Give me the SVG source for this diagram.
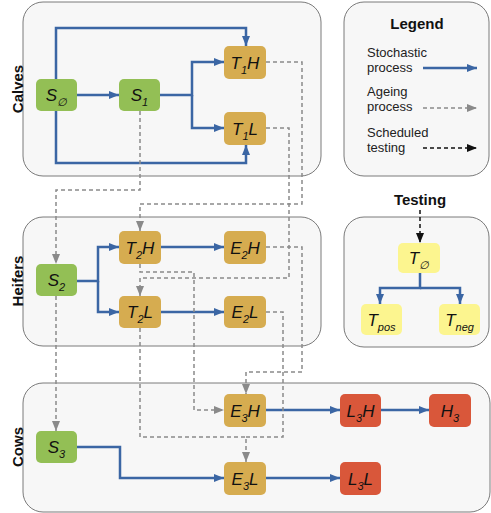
<svg xmlns="http://www.w3.org/2000/svg" width="491" height="513" viewBox="0 0 491 513">
<defs>
<style>
.box{fill:#f7f7f7;stroke:#7a7a7a;stroke-width:1}
.n{stroke:none}
.g{fill:#93bf55}
.o{fill:#d6ac50}
.r{fill:#d9573a}
.y{fill:#fcf58f}
.t{font-family:"Liberation Sans",Arial,sans-serif;font-style:italic;font-size:17px;fill:#111;text-anchor:middle}
.s{font-size:11px}
.lbl{font-family:"Liberation Sans",Arial,sans-serif;font-weight:bold;font-size:15px;fill:#111;text-anchor:middle}
.leg{font-family:"Liberation Sans",Arial,sans-serif;font-size:13px;fill:#222}
.st{fill:none;stroke:#3b66a4;stroke-width:2.5}
.ag{fill:none;stroke:#8a8a8a;stroke-width:1.5;stroke-dasharray:4,3}
.sc{fill:none;stroke:#111;stroke-width:1.5;stroke-dasharray:4,3}
</style>
<marker id="ab" markerUnits="userSpaceOnUse" markerWidth="10" markerHeight="8" refX="10" refY="4" orient="auto"><path d="M0,0 L10,4 L0,8 z" fill="#3b66a4"/></marker>
<marker id="ag" markerUnits="userSpaceOnUse" markerWidth="10" markerHeight="8" refX="10" refY="4" orient="auto"><path d="M0,0 L10,4 L0,8 z" fill="#8a8a8a"/></marker>
<marker id="ak" markerUnits="userSpaceOnUse" markerWidth="10" markerHeight="8" refX="10" refY="4" orient="auto"><path d="M0,0 L10,4 L0,8 z" fill="#111"/></marker>
</defs>

<g id="groups">
<rect class="box" x="23" y="2" width="298" height="174" rx="20"/>
<rect class="box" x="23" y="217" width="298" height="129" rx="20"/>
<rect class="box" x="23" y="383" width="467" height="129" rx="20"/>
<rect class="box" x="344" y="2" width="145" height="174" rx="20"/>
<rect class="box" x="344" y="217" width="145" height="130" rx="20"/>
<text class="lbl" transform="translate(23,89) rotate(-90)">Calves</text>
<text class="lbl" transform="translate(23,281) rotate(-90)">Heifers</text>
<text class="lbl" transform="translate(23,447) rotate(-90)">Cows</text>
<text class="lbl" x="417" y="29">Legend</text>
<text class="lbl" x="420" y="205">Testing</text>
</g>

<g id="legend">
<text class="leg" x="367" y="57">Stochastic</text>
<text class="leg" x="367" y="72">process</text>
<text class="leg" x="367" y="96">Ageing</text>
<text class="leg" x="367" y="111">process</text>
<text class="leg" x="367" y="137">Scheduled</text>
<text class="leg" x="367" y="152">testing</text>
<path class="st" d="M423,68 H477" marker-end="url(#ab)"/>
<path class="ag" d="M423,108 H477" marker-end="url(#ag)"/>
<path class="sc" d="M423,148 H477" marker-end="url(#ak)"/>
</g>

<g id="connectors">
<path class="st" d="M56,79 V28 H246 V46" marker-end="url(#ab)"/>
<path class="st" d="M56,111 V163 H246 V145" marker-end="url(#ab)"/>
<path class="st" d="M77,95 H119" marker-end="url(#ab)"/>
<path class="st" d="M160,95 H192 V62 H224" marker-end="url(#ab)"/>
<path class="st" d="M192,95 V128 H224" marker-end="url(#ab)"/>
<path class="st" d="M77,281 H98 V247 H119" marker-end="url(#ab)"/>
<path class="st" d="M98,281 V312 H119" marker-end="url(#ab)"/>
<path class="st" d="M161,247 H224" marker-end="url(#ab)"/>
<path class="st" d="M161,312 H224" marker-end="url(#ab)"/>
<path class="st" d="M77,447 H120 V478 H224" marker-end="url(#ab)"/>
<path class="st" d="M266,410 H340" marker-end="url(#ab)"/>
<path class="st" d="M381,410 H429" marker-end="url(#ab)"/>
<path class="st" d="M266,478 H340" marker-end="url(#ab)"/>
<path class="st" d="M420,273 V288 H380 V304" marker-end="url(#ab)"/>
<path class="st" d="M420,288 H460 V304" marker-end="url(#ab)"/>

<path class="ag" d="M140,111 V190 H56 V264" marker-end="url(#ag)"/>
<path class="ag" d="M266,62 H302 V204 H140 V231" marker-end="url(#ag)"/>
<path class="ag" d="M266,128 H289 V278 H140 V296" marker-end="url(#ag)"/>
<path class="ag" d="M140,264 V272 H194 V410 H224" marker-end="url(#ag)"/>
<path class="ag" d="M56,296 V431" marker-end="url(#ag)"/>
<path class="ag" d="M266,247 H302 V372 H246 V394" marker-end="url(#ag)"/>
<path class="ag" d="M140,328 V437 H246 V462" marker-end="url(#ag)"/>
<path class="ag" d="M266,312 H283 V437 H246"/>

<path class="sc" d="M420,210 V243" marker-end="url(#ak)"/>
</g>

<g id="S0"><rect class="n g" x="36" y="79" width="41" height="32" rx="5"/><text class="t" x="56.5" y="101">S<tspan class="s" dy="5">∅</tspan></text></g>
<g id="S1"><rect class="n g" x="119" y="79" width="41" height="32" rx="5"/><text class="t" x="139.5" y="101">S<tspan class="s" dy="5">1</tspan></text></g>
<g id="T1H"><rect class="n o" x="224" y="46" width="42" height="33" rx="5"/><text class="t" x="245" y="68.5">T<tspan class="s" dy="5">1</tspan><tspan dy="-5">H</tspan></text></g>
<g id="T1L"><rect class="n o" x="224" y="112" width="42" height="33" rx="5"/><text class="t" x="245" y="134.5">T<tspan class="s" dy="5">1</tspan><tspan dy="-5">L</tspan></text></g>
<g id="S2"><rect class="n g" x="36" y="264" width="41" height="32" rx="5"/><text class="t" x="56.5" y="286">S<tspan class="s" dy="5">2</tspan></text></g>
<g id="T2H"><rect class="n o" x="119" y="231" width="42" height="33" rx="5"/><text class="t" x="140" y="253.5">T<tspan class="s" dy="5">2</tspan><tspan dy="-5">H</tspan></text></g>
<g id="T2L"><rect class="n o" x="119" y="296" width="42" height="32" rx="5"/><text class="t" x="140" y="318">T<tspan class="s" dy="5">2</tspan><tspan dy="-5">L</tspan></text></g>
<g id="E2H"><rect class="n o" x="224" y="231" width="42" height="33" rx="5"/><text class="t" x="245" y="253.5">E<tspan class="s" dy="5">2</tspan><tspan dy="-5">H</tspan></text></g>
<g id="E2L"><rect class="n o" x="224" y="296" width="42" height="32" rx="5"/><text class="t" x="245" y="318">E<tspan class="s" dy="5">2</tspan><tspan dy="-5">L</tspan></text></g>
<g id="E3H"><rect class="n o" x="224" y="394" width="42" height="33" rx="5"/><text class="t" x="245" y="416.5">E<tspan class="s" dy="5">3</tspan><tspan dy="-5">H</tspan></text></g>
<g id="L3H"><rect class="n r" x="340" y="394" width="41" height="33" rx="5"/><text class="t" x="360.5" y="416.5">L<tspan class="s" dy="5">3</tspan><tspan dy="-5">H</tspan></text></g>
<g id="H3"><rect class="n r" x="429" y="394" width="42" height="33" rx="5"/><text class="t" x="450" y="416.5">H<tspan class="s" dy="5">3</tspan></text></g>
<g id="S3"><rect class="n g" x="36" y="431" width="41" height="32" rx="5"/><text class="t" x="56.5" y="453">S<tspan class="s" dy="5">3</tspan></text></g>
<g id="E3L"><rect class="n o" x="224" y="462" width="42" height="33" rx="5"/><text class="t" x="245" y="484.5">E<tspan class="s" dy="5">3</tspan><tspan dy="-5">L</tspan></text></g>
<g id="L3L"><rect class="n r" x="340" y="462" width="41" height="33" rx="5"/><text class="t" x="360.5" y="484.5">L<tspan class="s" dy="5">3</tspan><tspan dy="-5">L</tspan></text></g>
<g id="T0"><rect class="n y" x="398" y="243" width="42" height="30" rx="5"/><text class="t" x="419" y="264">T<tspan class="s" dy="5">∅</tspan></text></g>
<g id="Tpos"><rect class="n y" x="361" y="304" width="41" height="31" rx="5"/><text class="t" x="381.5" y="325.5">T<tspan class="s" dy="5">pos</tspan></text></g>
<g id="Tneg"><rect class="n y" x="439" y="304" width="41" height="31" rx="5"/><text class="t" x="459.5" y="325.5">T<tspan class="s" dy="5">neg</tspan></text></g>
</svg>
